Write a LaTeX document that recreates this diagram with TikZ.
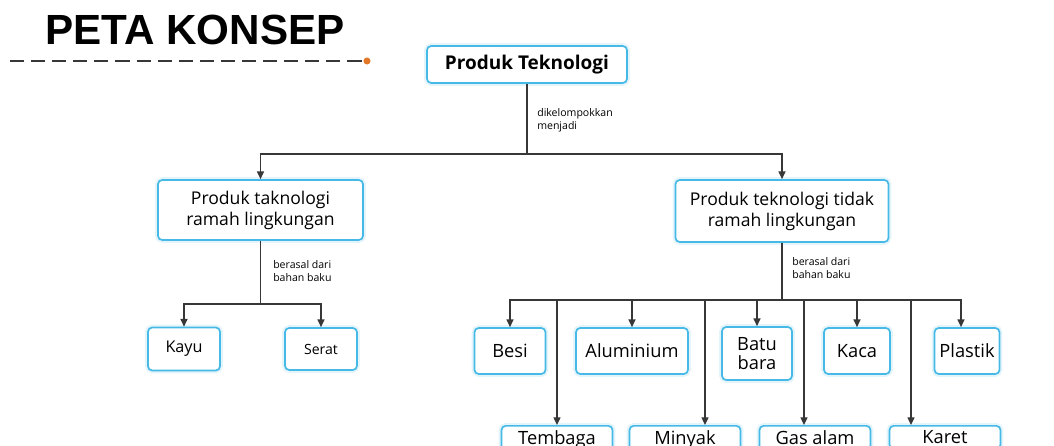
\documentclass[tikz,border=0pt]{standalone}
\usepackage{fontspec}
\setmainfont{Open Sans}
\newfontfamily\titlefont{Liberation Sans}
\usetikzlibrary{arrows.meta,calc}
\definecolor{boxblue}{RGB}{70,185,230}
\definecolor{linegray}{RGB}{55,55,55}
\definecolor{dotorange}{RGB}{225,120,40}
\tikzset{
  box/.style={draw=boxblue, line width=1.2pt, rounded corners=3pt, fill=white,
    align=center, inner sep=0pt, preaction={draw=boxblue!15, line width=4pt}},
  cutbox/.style={box, anchor=north, inner ysep=3.5pt, minimum width=2.775cm},
  link/.style={draw=linegray, line width=1pt},
  arr/.style={link, -{Triangle[width=5pt,length=5.5pt]}},
  note/.style={font=\fontsize{7.5}{9}\selectfont, align=left, anchor=west, inner sep=0pt},
}

\begin{document}
\begin{tikzpicture}[x=0.025cm, y=-0.025cm]
\useasboundingbox (0,0) rectangle (1054,446);
\clip (0,0) rectangle (1054,446);

% Title
\node[anchor=base west, inner sep=0pt, font=\titlefont\bfseries\fontsize{30}{30}\selectfont] (title) at (45,45) {PETA KONSEP};
\coordinate (dashstart) at (10,61);
\node[circle, fill=dotorange, inner sep=0pt, minimum size=5pt] (dot) at (367,61) {};
\draw[linegray, line width=0.8pt, dash pattern=on 10pt off 5pt] (dashstart) -- (dot);

% Top node
\node[box, minimum width=5cm, minimum height=0.925cm, font=\bfseries\fontsize{13.5}{15}\selectfont] (produk) at (527,64.5) {Produk Teknologi};

% Two groups
\node[box, minimum width=5.125cm, minimum height=1.5cm, font=\fontsize{12.5}{15}\selectfont] (ramah) at (260.5,210) {Produk taknologi\\ramah lingkungan};
\node[box, minimum width=5.325cm, minimum height=1.55cm, font=\fontsize{12.5}{15}\selectfont] (tidak) at (782,211) {Produk teknologi tidak\\ramah lingkungan};
\draw[arr] (produk.south) -- ++(0,70) -| (ramah.north);
\draw[arr] (produk.south) -- ++(0,70) -| (tidak.north);
\node[note] (lblgroup) at (537,120) {dikelompokkan\\menjadi};

% Ramah lingkungan
\node[box, minimum width=1.8cm, minimum height=1.075cm, font=\fontsize{11.5}{13}\selectfont] (kayu) at (184,349) {Kayu};
\node[box, minimum width=1.8cm, minimum height=1.05cm, font=\fontsize{10}{11}\selectfont] (serat) at (321,349) {Serat};
\draw[arr] (ramah.south) -- ++(0,63) -| (kayu.north);
\draw[arr] (ramah.south) -- ++(0,63) -| (serat.north);
\node[note] (lblramah) at (273,271) {berasal dari\\bahan baku};

% Tidak ramah lingkungan, first row
\node[box, minimum width=1.775cm, minimum height=1.15cm, font=\fontsize{13}{14}\selectfont] (besi) at (510,351) {Besi};
\node[box, minimum width=2.8cm, minimum height=1.15cm, font=\fontsize{13}{14}\selectfont] (alu) at (632,351) {Aluminium};
\node[box, minimum width=1.75cm, minimum height=1.325cm, font=\fontsize{13}{14}\selectfont] (batu) at (757,353.5) {Batu\\bara};
\node[box, minimum width=1.65cm, minimum height=1.15cm, font=\fontsize{13}{14}\selectfont] (kaca) at (857,351) {Kaca};
\node[box, minimum width=1.625cm, minimum height=1.15cm, font=\fontsize{13}{14}\selectfont] (plastik) at (967,351) {Plastik};

% Tidak ramah lingkungan, second row (cut by the lower edge)
\node[cutbox, font=\fontsize{13}{14}\selectfont] (tembaga) at (557,425) {Tembaga};
\node[cutbox, font=\fontsize{13}{14}\selectfont] (minyak) at (685,425) {Minyak\\bumi};
\node[cutbox, font=\fontsize{13}{14}\selectfont] (gas) at (815,425) {Gas alam};
\node[cutbox, font=\fontsize{13}{14}\selectfont] (karet) at (945,425) {Karet};

\draw[arr] (tidak.south) -- ++(0,57) -| (besi.north);
\draw[arr] (tidak.south) -- ++(0,57) -| (alu.north);
\draw[arr] (tidak.south) -- ++(0,57) -| (batu.north);
\draw[arr] (tidak.south) -- ++(0,57) -| (kaca.north);
\draw[arr] (tidak.south) -- ++(0,57) -| ($(plastik.north)+(-6,0)$);
\draw[arr] (tidak.south) -- ++(0,57) -| (tembaga.north);
\draw[arr] (tidak.south) -- ++(0,57) -| ($(minyak.north)+(20,0)$);
\draw[arr] (tidak.south) -- ++(0,57) -| ($(gas.north)+(-11,0)$);
\draw[arr] (tidak.south) -- ++(0,57) -| ($(karet.north)+(-34,0)$);
\node[note] (lbltidak) at (792,268) {berasal dari\\bahan baku};

\end{tikzpicture}
\end{document}
